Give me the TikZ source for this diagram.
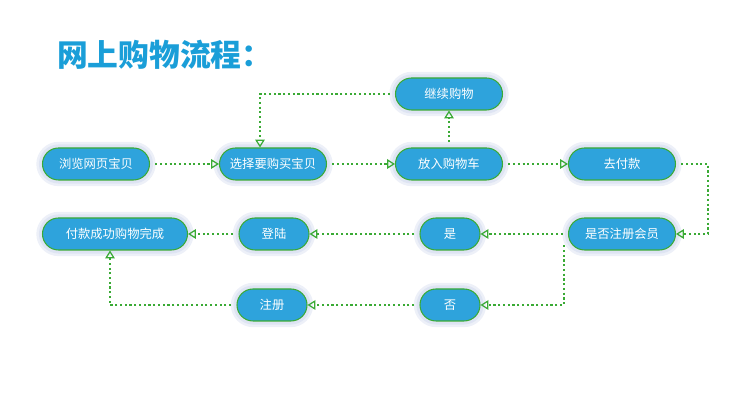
\documentclass[tikz,border=0pt]{standalone}
\usepackage{fontspec}
\newfontfamily\cjk{Noto Sans CJK SC}
\usetikzlibrary{arrows.meta}
\definecolor{pillblue}{HTML}{2EA3DC}
\definecolor{pillgreen}{HTML}{3AAA35}
\definecolor{titleblue}{HTML}{1A9ED8}
\definecolor{haloblue}{HTML}{D6DDF0}
\begin{document}
\begin{tikzpicture}[
    pill/.style={draw=pillgreen, line width=0.6pt, fill=pillblue, rounded corners=3.2mm,
        minimum width=2.14cm, minimum height=0.64cm, inner sep=0pt,
        text=white, font=\cjk\fontsize{7}{8}\selectfont,
        preaction={draw=haloblue!45, line width=7pt},
        preaction={draw=haloblue!80, line width=4pt}},
    flow/.style={draw=pillgreen, line width=1.2pt, dash pattern=on 1.2pt off 1.5pt,
        -{Triangle[open, length=4.5pt, width=5.5pt, line width=0.7pt]}, shorten <=3pt}
  ]
  \useasboundingbox (0,0) rectangle (15,8);
  \node[anchor=west, text=titleblue, font=\cjk\bfseries\fontsize{17.5}{20}\selectfont] (title) at (1.02,6.9) {网上购物流程：};
  % fila de arriba
  \node[pill] (jixu)    at (8.98,6.12) {继续购物};
  \node[pill] (liulan)  at (1.92,4.72) {浏览网页宝贝};
  \node[pill] (xuanze)  at (5.46,4.72) {选择要购买宝贝};
  \node[pill] (fangru)  at (8.98,4.72) {放入购物车};
  \node[pill] (qufu)    at (12.44,4.72) {去付款};
  % fila del medio
  \node[pill, minimum width=2.9cm] (wancheng) at (2.30,3.32) {付款成功购物完成};
  \node[pill, minimum width=1.4cm] (denglu)   at (5.48,3.32) {登陆};
  \node[pill, minimum width=1.2cm] (shi)      at (9.00,3.32) {是};
  \node[pill] (shifou)  at (12.44,3.32) {是否注册会员};
  % fila de abajo
  \node[pill, minimum width=1.4cm] (zhuce) at (5.44,1.90) {注册};
  \node[pill, minimum width=1.2cm] (fou)   at (9.00,1.90) {否};
  % conexiones
  \draw[flow] (liulan) -- (xuanze);
  \draw[flow] (xuanze) -- (fangru);
  \draw[flow] (fangru) -- (qufu);
  \draw[flow] (fangru) -- (jixu);
  \draw[flow] (jixu.west) -| ([xshift=-0.26cm]xuanze.north); % volver
  \draw[flow] (qufu.east) -- ++(0.64,0) |- (shifou.east);
  \draw[flow] (shifou) -- (shi);
  \draw[flow] (shi) -- (denglu);
  \draw[flow] (denglu) -- (wancheng);
  \draw[flow] ([xshift=-0.08cm,yshift=-0.12cm]shifou.west) |- (fou.east); % no registrado
  \draw[flow] (fou) -- (zhuce);
  \draw[flow] (zhuce.west) -| ([xshift=-0.1cm]wancheng.south);
\end{tikzpicture}
\end{document}
